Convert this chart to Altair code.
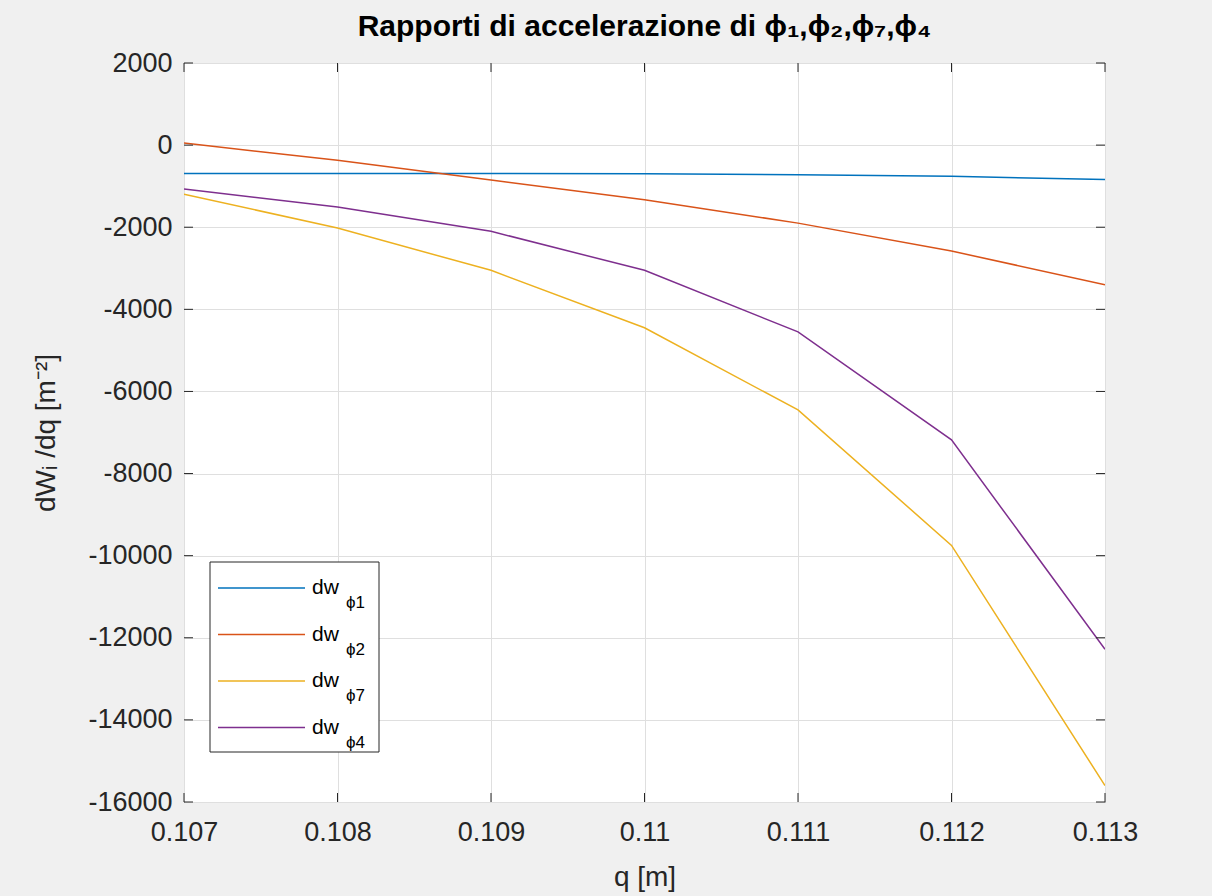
import altair as alt
import pandas as pd

q = [0.107, 0.108, 0.109, 0.110, 0.111, 0.112, 0.113]
phi1 = [-690, -690, -690, -700, -720, -760, -840]
phi2 = [50, -370, -850, -1330, -1900, -2580, -3400]
phi7 = [-1195, -2020, -3050, -4450, -6450, -9750, -15600]
phi4 = [-1070, -1510, -2100, -3050, -4550, -7180, -12280]

series_names = ["dw_ϕ1", "dw_ϕ2", "dw_ϕ7", "dw_ϕ4"]
series_subs = ["ϕ1", "ϕ2", "ϕ7", "ϕ4"]
series_colors = ["#0072BD", "#D95319", "#EDB120", "#7E2F8E"]
x_ticks = [0.107, 0.108, 0.109, 0.110, 0.111, 0.112, 0.113]
y_ticks = [2000, 0, -2000, -4000, -6000, -8000, -10000, -12000, -14000, -16000]

W, H = 921, 739
FONT = "Liberation Sans"
AX = "#262626"

rows = []
for name, vals in zip(series_names, [phi1, phi2, phi7, phi4]):
    for xv, yv in zip(q, vals):
        rows.append({"q": xv, "v": yv, "s": name})
df = pd.DataFrame(rows)

xs = alt.Scale(domain=[0.107, 0.113], nice=False, zero=False)
ys = alt.Scale(domain=[-16000, 2000], nice=False, zero=False)
cs = alt.Scale(domain=series_names, range=series_colors)

lines = alt.Chart(df).mark_line(strokeWidth=1.5, clip=True).encode(
    x=alt.X("q:Q", scale=xs, title="q [m]",
            axis=alt.Axis(values=x_ticks, format=".3~f", grid=True, gridColor="#DFDFDF",
                          tickSize=0, domain=False, labelPadding=17, titlePadding=18,
                          labelFlush=False)),
    y=alt.Y("v:Q", scale=ys, title="dWᵢ /dq [m⁻²]",
            axis=alt.Axis(values=y_ticks, labelExpr="datum.value + ''", grid=True,
                          gridColor="#DFDFDF", tickSize=0, domain=False,
                          labelPadding=12, titlePadding=27)),
    color=alt.Color("s:N", scale=cs, legend=None),
    order=alt.Order("q:Q"),
)

xt = pd.DataFrame({"t": x_ticks})
yt = pd.DataFrame({"t": y_ticks})
tick_b = alt.Chart(xt).mark_rule(color=AX, strokeWidth=1).encode(
    x=alt.X("t:Q", scale=xs), y=alt.value(H), y2=alt.value(H - 9))
tick_t = alt.Chart(xt).mark_rule(color=AX, strokeWidth=1).encode(
    x=alt.X("t:Q", scale=xs), y=alt.value(0), y2=alt.value(9))
tick_l = alt.Chart(yt).mark_rule(color=AX, strokeWidth=1).encode(
    y=alt.Y("t:Q", scale=ys), x=alt.value(0), x2=alt.value(9))
tick_r = alt.Chart(yt).mark_rule(color=AX, strokeWidth=1).encode(
    y=alt.Y("t:Q", scale=ys), x=alt.value(W - 9), x2=alt.value(W))

# legend
leg = pd.DataFrame({"s": series_names, "sub": series_subs, "i": list(range(len(series_names)))})
leg_box = alt.Chart(pd.DataFrame({"a": [0]})).mark_rect(
    fill="white", stroke=AX, strokeWidth=1).encode(
    x=alt.value(26), x2=alt.value(195), y=alt.value(499), y2=alt.value(689))
leg_base = alt.Chart(leg).transform_calculate(ly="525 + datum.i * 46.5")
leg_lines = leg_base.mark_rule(strokeWidth=1.5).encode(
    x=alt.value(34), x2=alt.value(121), y=alt.Y("ly:Q", scale=None),
    color=alt.Color("s:N", scale=cs, legend=None))
leg_dw = leg_base.mark_text(text="dw", align="left", baseline="alphabetic", fontSize=21,
                            font=FONT, color="black", dy=6).encode(
    x=alt.value(128), y=alt.Y("ly:Q", scale=None))
leg_sub = leg_base.mark_text(align="left", baseline="alphabetic", fontSize=17,
                             font=FONT, color="black", dy=20).encode(
    x=alt.value(162), y=alt.Y("ly:Q", scale=None), text="sub:N")

chart = alt.layer(lines, tick_b, tick_t, tick_l, tick_r, leg_box, leg_lines, leg_dw, leg_sub).properties(
    width=W, height=H,
    title=alt.TitleParams("Rapporti di accelerazione di ϕ₁,ϕ₂,ϕ₇,ϕ₄", fontSize=30,
                          font=FONT, fontWeight="bold", color="black", anchor="middle",
                          offset=7),
    background="#F0F0F0",
    padding={"left": 184, "top": 63, "right": 107, "bottom": 94},
    autosize=alt.AutoSizeParams(type="none"),
).configure_view(
    fill="white", stroke=AX, strokeWidth=1
).configure_axis(
    labelFont=FONT, titleFont=FONT, labelFontSize=27, titleFontSize=28,
    labelColor=AX, titleColor=AX, titleFontWeight="normal"
)

chart.save("out.html", embed_options={"renderer": "svg", "actions": False})
